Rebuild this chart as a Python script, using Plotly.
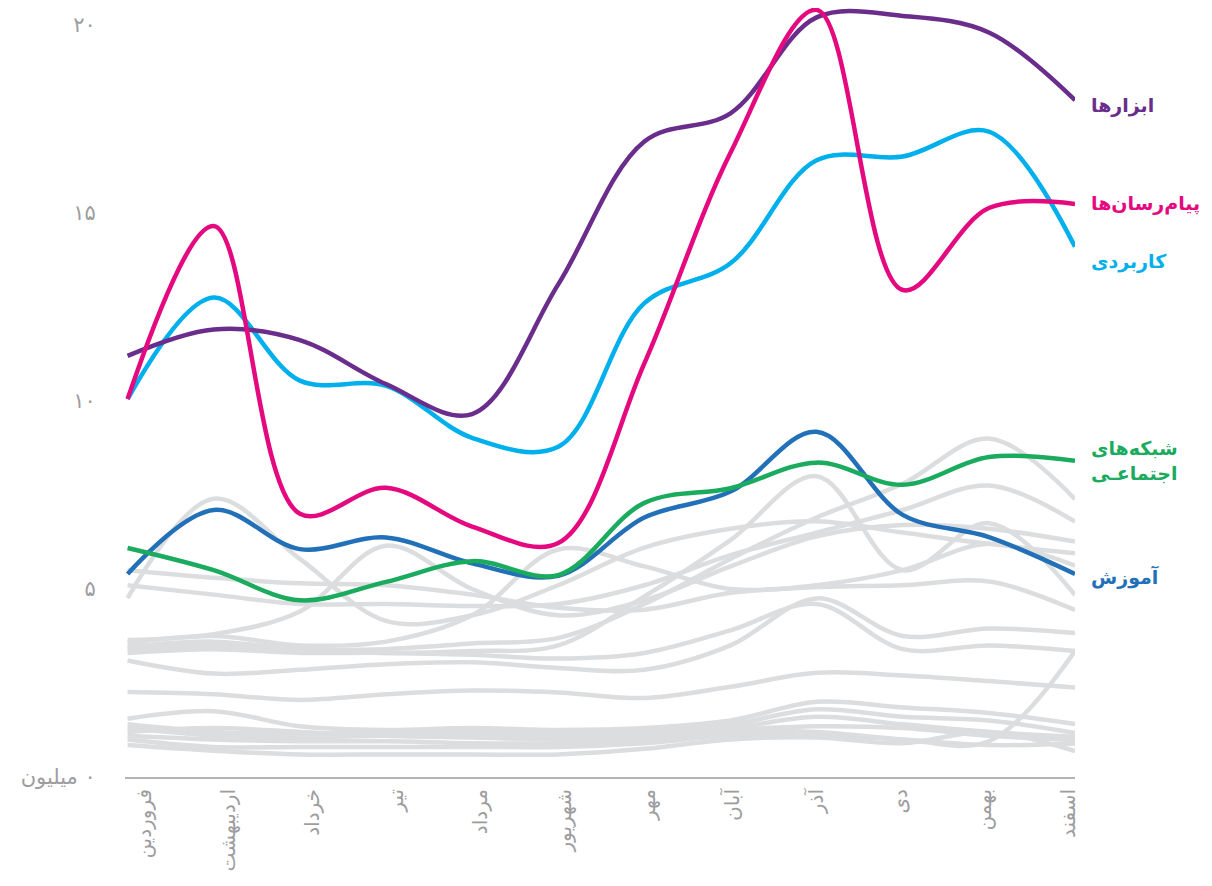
import plotly.graph_objects as go

# ---------------- data ----------------
months = ["فروردین", "اردیبهشت", "خرداد", "تیر", "مرداد", "شهریور",
          "مهر", "آبان", "آذر", "دی", "بهمن", "اسفند"]
month_idx = list(range(len(months)))

y_tick_values = [0, 5, 10, 15, 20]
y_tick_labels = ["میلیون\u200e ۰", "۵", "۱۰", "۱۵", "۲۰"]

# highlighted categories (millions)
abzarha = [11.2, 11.9, 11.62, 10.45, 9.65, 13.1, 16.9, 17.65, 20.2, 20.24, 19.8, 18.0]
payamresanha = [10.05, 14.65, 7.0, 7.69, 6.66, 6.22, 11.0, 16.6, 20.4, 12.95, 15.13, 15.24]
karbordi = [10.05, 12.75, 10.54, 10.4, 9.02, 8.78, 12.6, 13.66, 16.4, 16.5, 17.16, 14.1]
shabakeha = [6.09, 5.5, 4.7, 5.19, 5.74, 5.37, 7.29, 7.68, 8.36, 7.77, 8.51, 8.41]
amuzesh = [5.4, 7.1, 6.06, 6.37, 5.68, 5.35, 6.9, 7.59, 9.18, 6.97, 6.38, 5.4]

# other (grey) categories
other_a = [5.5, 5.3, 5.15, 5.1, 4.85, 4.5, 4.45, 4.9, 5.05, 5.1, 5.2, 4.44]
other_b = [5.1, 4.85, 4.6, 4.6, 4.55, 4.6, 5.1, 5.9, 6.5, 7.1, 7.75, 6.79]
other_c = [4.76, 7.4, 5.8, 4.15, 4.3, 5.1, 6.1, 6.6, 6.8, 6.5, 6.2, 5.95]
other_d = [3.64, 3.8, 4.4, 6.15, 5.0, 4.3, 4.7, 5.6, 6.4, 6.7, 6.6, 6.26]
other_e = [3.57, 3.75, 3.5, 3.6, 4.3, 6.05, 5.6, 5.0, 5.1, 5.5, 6.2, 5.62]
other_f = [3.46, 3.6, 3.4, 3.4, 3.55, 3.7, 4.6, 5.8, 6.9, 7.8, 9.0, 7.39]
other_g = [3.39, 3.5, 3.35, 3.3, 3.35, 3.5, 4.8, 6.3, 8.0, 5.5, 6.75, 4.84]
other_h = [3.1, 2.75, 2.85, 3.0, 3.05, 2.9, 2.85, 3.5, 4.75, 3.75, 3.95, 3.83]
other_i = [3.3, 3.4, 3.3, 3.3, 3.25, 3.15, 3.3, 3.9, 4.6, 3.4, 3.5, 3.35]
other_j = [2.26, 2.2, 2.05, 2.2, 2.3, 2.25, 2.1, 2.4, 2.77, 2.7, 2.55, 2.38]
other_k = [1.55, 1.75, 1.35, 1.25, 1.3, 1.25, 1.3, 1.5, 2.0, 1.85, 1.7, 1.41]
other_l = [1.4, 1.2, 1.15, 1.2, 1.2, 1.15, 1.25, 1.4, 1.8, 1.6, 1.5, 1.17]
other_m = [1.3, 1.1, 1.05, 1.1, 1.1, 1.05, 1.15, 1.3, 1.6, 1.4, 1.2, 1.07]
other_n = [1.2, 1.3, 1.2, 1.1, 1.05, 1.0, 1.1, 1.25, 1.35, 1.3, 1.1, 0.98]
other_o = [1.1, 1.0, 0.95, 0.95, 0.9, 0.9, 1.0, 1.2, 1.2, 1.0, 0.95, 3.35]
other_p = [1.0, 0.8, 0.8, 0.8, 0.8, 0.8, 0.9, 1.1, 1.1, 1.0, 0.85, 0.89]
other_q = [0.85, 0.7, 0.6, 0.6, 0.6, 0.6, 0.75, 1.0, 1.05, 0.9, 1.2, 0.69]

grey_series = [other_a, other_b, other_c, other_d, other_e, other_f, other_g,
               other_h, other_i, other_j, other_k, other_l, other_m, other_n,
               other_o, other_p, other_q]

highlight = [
    ("ابزارها", abzarha, "#6a2d8c", -5),
    ("پیام‌رسان‌ها", payamresanha, "#e5097f", 0),
    ("کاربردی", karbordi, "#00b0ec", -15),
    ("شبکه‌های<br>اجتماعـی", shabakeha, "#1bab5e", 0),
    ("آموزش", amuzesh, "#2270b8", -3),
]

FONT = "DejaVu Sans"
fig = go.Figure()

for s in grey_series:
    fig.add_trace(go.Scatter(
        x=month_idx, y=s, mode="lines",
        line=dict(color="#dcdddf", width=4.5, shape="spline", smoothing=1.0),
        hoverinfo="skip", cliponaxis=False))

# hidden helper trace for the month label axis
fig.add_trace(go.Scatter(x=month_idx, y=[None] * len(month_idx), xaxis="x2",
                         mode="lines", hoverinfo="skip", showlegend=False))

order = [4, 3, 2, 0, 1]
for k in order:
    name, vals, col, ysh = highlight[k]
    fig.add_trace(go.Scatter(
        x=month_idx, y=vals, mode="lines", name=name,
        line=dict(color=col, width=4.5, shape="spline", smoothing=1.0),
        cliponaxis=False))

for name, vals, col, ysh in highlight:
    fig.add_annotation(
        x=month_idx[-1], y=vals[-1], xref="x", yref="y",
        text="<b>" + name + "</b>", showarrow=False,
        xanchor="left", yanchor="middle", align="left",
        xshift=14, yshift=ysh,
        font=dict(family=FONT, size=19, color=col))

fig.update_layout(
    width=1204, height=870,
    margin=dict(l=117, r=137, t=0, b=101),
    plot_bgcolor="white", paper_bgcolor="white",
    showlegend=False,
    xaxis=dict(range=[-0.03, 11], showgrid=False, zeroline=False,
               showline=True, linecolor="#b4b4b6", linewidth=2,
               showticklabels=False, ticks=""),
    xaxis2=dict(overlaying="x", anchor="y", side="bottom",
                range=[-0.238, 11.08], tickmode="array",
                tickvals=month_idx, ticktext=months, tickangle=-90,
                showgrid=False, zeroline=False, showline=False,
                ticks="outside", ticklen=3, tickcolor="rgba(0,0,0,0)",
                tickfont=dict(family=FONT, size=20, color="#9d9d9f")),
    yaxis=dict(range=[0, 20.45], tickmode="array",
               tickvals=y_tick_values, ticktext=y_tick_labels,
               showgrid=False, zeroline=False, showline=False,
               ticks="outside", ticklen=24, tickcolor="rgba(0,0,0,0)",
               tickfont=dict(family=FONT, size=21, color="#9d9d9f")),
)

fig.write_html("out.html")
